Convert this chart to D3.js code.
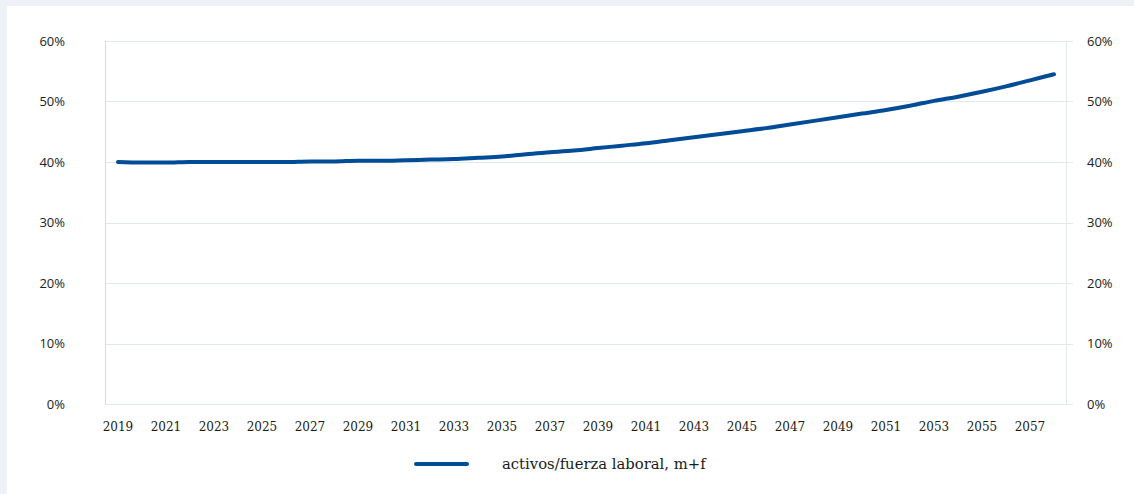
<!DOCTYPE html>
<html lang="es">
<head>
<meta charset="UTF-8">
<title>activos/fuerza laboral</title>
<script src="https://d3js.org/d3.v7.min.js"></script>
<style>
  html, body { margin: 0; padding: 0; background: #eef2f6; }
  svg { display: block; }
</style>
</head>
<body>
<script>
// data
var years = d3.range(2019, 2059);
var values = [40.0, 39.9, 39.9, 40.0, 40.0, 40.0, 40.0, 40.0, 40.1, 40.1,
              40.2, 40.2, 40.3, 40.4, 40.5, 40.7, 40.9, 41.3, 41.6, 41.9,
              42.3, 42.7, 43.1, 43.6, 44.1, 44.6, 45.1, 45.6, 46.2, 46.8,
              47.4, 48.0, 48.6, 49.3, 50.1, 50.8, 51.6, 52.5, 53.5, 54.5];
var yTicks = [0, 10, 20, 30, 40, 50, 60];
var seriesName = "activos/fuerza laboral, m+f";

var width = 1134, height = 494;
var plotLeft = 106, plotRight = 1066, plotTop = 41, plotBottom = 404;

var svg = d3.select("body").append("svg")
    .attr("width", width)
    .attr("height", height);

svg.append("rect")
    .attr("x", 7).attr("y", 6)
    .attr("width", width - 7).attr("height", height - 6)
    .attr("fill", "#ffffff");

var x = d3.scaleBand().domain(years).range([plotLeft, plotRight]).padding(0);
var y = d3.scaleLinear().domain([0, 60]).range([plotBottom, plotTop]);

// gridlines
svg.append("g")
    .selectAll("line")
    .data(yTicks)
    .enter().append("line")
    .attr("x1", plotLeft)
    .attr("x2", plotRight + 7)
    .attr("y1", function(d) { return Math.round(y(d)) + 0.5; })
    .attr("y2", function(d) { return Math.round(y(d)) + 0.5; })
    .attr("stroke", "#e1e8f0")
    .attr("stroke-width", 1);

// axis lines
svg.append("line")
    .attr("x1", plotLeft - 0.5).attr("x2", plotLeft - 0.5)
    .attr("y1", plotTop).attr("y2", plotBottom + 1)
    .attr("stroke", "#d6d9dd");
svg.append("line")
    .attr("x1", plotRight + 0.5).attr("x2", plotRight + 0.5)
    .attr("y1", plotTop).attr("y2", plotBottom + 1)
    .attr("stroke", "#e3e9f0");

// y labels, both sides
var fmt = function(d) { return d + "%"; };
svg.append("g")
    .selectAll("text")
    .data(yTicks)
    .enter().append("text")
    .attr("x", 65)
    .attr("y", function(d) { return y(d) + 4.5; })
    .attr("text-anchor", "end")
    .style("font-family", "'Open Sans', sans-serif")
    .style("font-size", "13px")
    .style("fill", "#222")
    .text(fmt);
svg.append("g")
    .selectAll("text")
    .data(yTicks)
    .enter().append("text")
    .attr("x", 1087)
    .attr("y", function(d) { return y(d) + 4.5; })
    .attr("text-anchor", "start")
    .style("font-family", "'Open Sans', sans-serif")
    .style("font-size", "13px")
    .style("fill", "#222")
    .text(fmt);

// x labels, every other year
svg.append("g")
    .selectAll("text")
    .data(years.filter(function(d, i) { return i % 2 === 0; }))
    .enter().append("text")
    .attr("x", function(d) { return x(d) + x.bandwidth() / 2; })
    .attr("y", 431)
    .attr("text-anchor", "middle")
    .style("font-family", "'DejaVu Serif', serif")
    .style("font-size", "12px")
    .style("fill", "#1a1a1a")
    .text(function(d) { return d; });

// the series
var line = d3.line()
    .x(function(d, i) { return x(years[i]) + x.bandwidth() / 2; })
    .y(function(d) { return y(d); })
    .curve(d3.curveMonotoneX);

svg.append("path")
    .datum(values)
    .attr("d", line)
    .attr("fill", "none")
    .attr("stroke", "#004c97")
    .attr("stroke-width", 4)
    .attr("stroke-linecap", "round");

// legend
svg.append("line")
    .attr("x1", 416).attr("x2", 467)
    .attr("y1", 464).attr("y2", 464)
    .attr("stroke", "#004c97")
    .attr("stroke-width", 4)
    .attr("stroke-linecap", "round");
svg.append("text")
    .attr("x", 502)
    .attr("y", 469)
    .style("font-family", "'DejaVu Serif', serif")
    .style("font-size", "14.8px")
    .style("fill", "#1a1a1a")
    .text(seriesName);
</script>
</body>
</html>
